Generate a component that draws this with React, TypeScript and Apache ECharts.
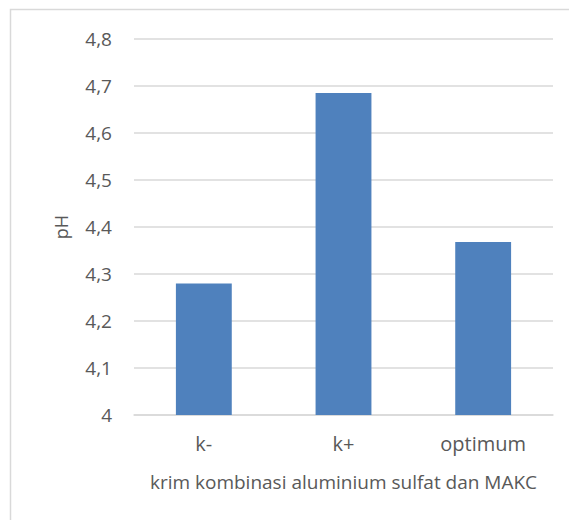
import React, { useEffect, useRef } from "react";
import * as echarts from "echarts";

const categories = ["k-", "k+", "optimum"];
const phValues = [4.28, 4.685, 4.368];
const yMin = 4;
const yMax = 4.8;
const yStep = 0.1;
const xAxisTitle = "krim kombinasi aluminium sulfat dan MAKC";
const yAxisTitle = "pH";

export default function App() {
  const ref = useRef<HTMLDivElement>(null);
  useEffect(() => {
    const chart = echarts.init(ref.current!, null, { renderer: "svg" });
    const font = "'Open Sans', sans-serif";
    chart.setOption({
      animation: false,
      backgroundColor: "#ffffff",
      graphic: [
        {
          type: "rect",
          shape: { x: 10.5, y: 9.5, width: 600, height: 600 },
          style: { fill: "none", stroke: "#d9d9d9", lineWidth: 1.5 },
          silent: true,
        },
      ],
      grid: { left: 134, right: 16, top: 39, bottom: 105 },
      xAxis: {
        type: "category",
        data: categories,
        axisTick: { show: false },
        axisLine: { lineStyle: { color: "#d9d9d9", width: 1.5 } },
        axisLabel: { color: "#595959", fontSize: 20, fontFamily: font, margin: 18 },
        name: xAxisTitle,
        nameLocation: "middle",
        nameGap: 57,
        nameTextStyle: { color: "#595959", fontSize: 19, fontFamily: font },
      },
      yAxis: {
        type: "value",
        min: yMin,
        max: yMax,
        interval: yStep,
        axisLine: { show: false },
        axisTick: { show: false },
        splitLine: { lineStyle: { color: "#d9d9d9", width: 1.5 } },
        axisLabel: {
          color: "#595959",
          fontSize: 19,
          fontFamily: font,
          margin: 22,
          formatter: (v: number) => {
            const s = Number(v.toFixed(1));
            return (Number.isInteger(s) ? String(s) : s.toFixed(1)).replace(".", ",");
          },
        },
        name: yAxisTitle,
        nameLocation: "middle",
        nameGap: 64,
        nameRotate: 90,
        nameTextStyle: { color: "#595959", fontSize: 18, fontFamily: font },
      },
      series: [
        {
          type: "bar",
          data: phValues,
          barWidth: "40%",
          itemStyle: { color: "#4f81bd" },
        },
      ],
    });
    return () => chart.dispose();
  }, []);
  return (
    <div
      ref={ref}
      style={{ position: "fixed", left: 0, top: 0, width: 569, height: 520 }}
    />
  );
}
